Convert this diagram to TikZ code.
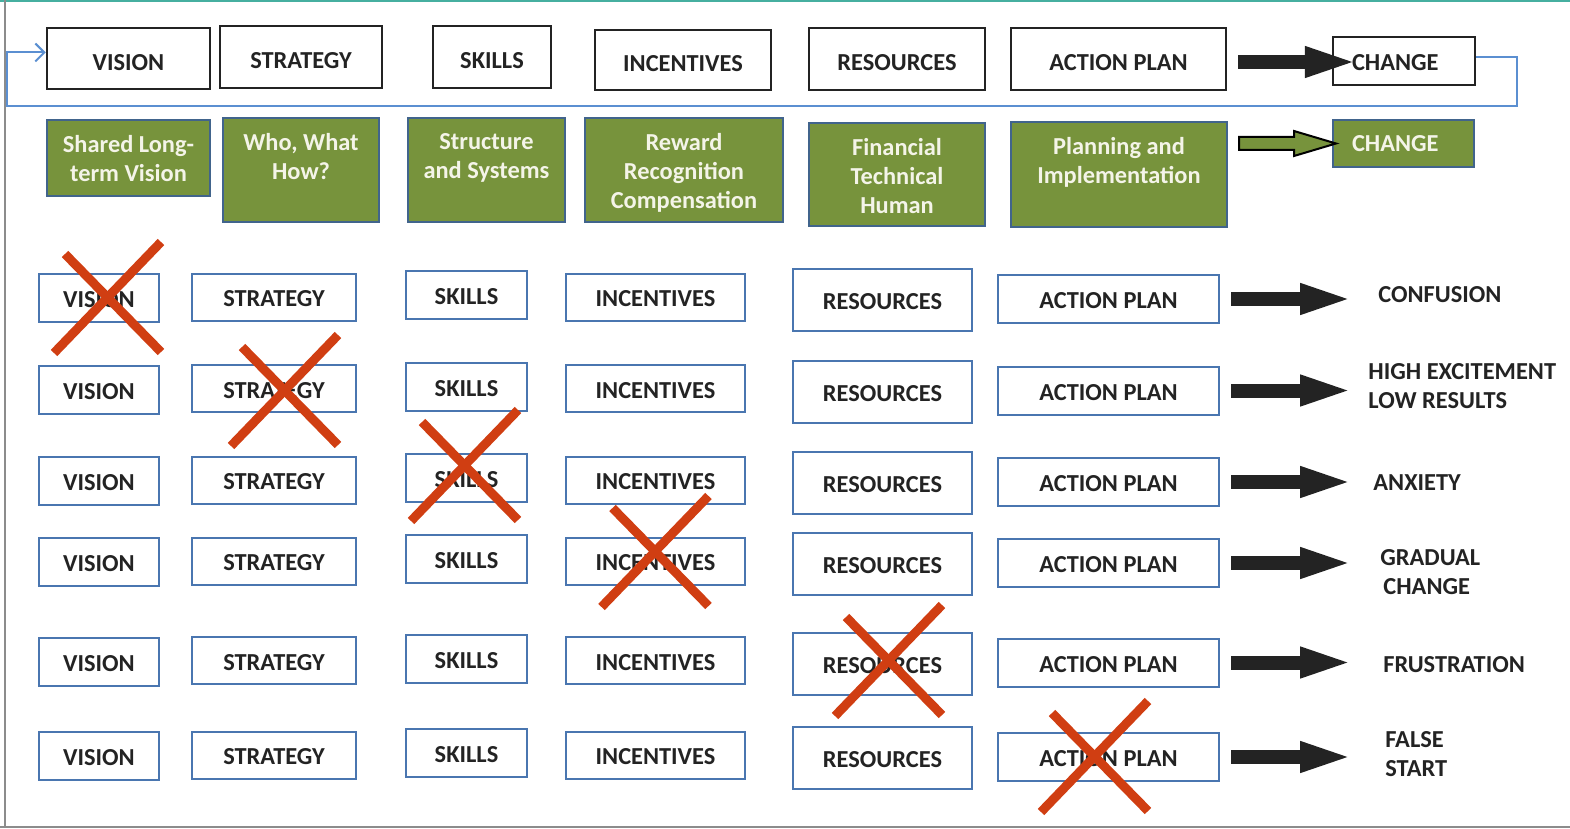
\documentclass[tikz,border=0pt]{standalone}
\usepackage{fontspec}
\setmainfont{Carlito}
\usepackage{tikz}
\usetikzlibrary{arrows.meta, positioning, calc}

\definecolor{inkgray}{RGB}{35, 35, 35}
\definecolor{loopblue}{RGB}{91, 143, 209}
\definecolor{boxblue}{RGB}{74, 118, 176}
\definecolor{leafgreen}{RGB}{119, 147, 60}
\definecolor{gedge}{RGB}{65, 100, 140}
\definecolor{gtext}{RGB}{244, 244, 232}
\definecolor{crossred}{RGB}{208, 62, 18}
\definecolor{framegray}{RGB}{140, 140, 140}
\definecolor{frameteal}{RGB}{70, 175, 160}

\newcommand{\boxfont}{\fontsize{12.2}{14.5}\selectfont\bfseries}

\begin{document}
\begin{tikzpicture}[x=0.5pt, y=-0.5pt,
  wh/.style 2 args={minimum width=#1*0.5pt, minimum height=#2*0.5pt},
  topbox/.style={draw=inkgray, line width=1.25pt, fill=white, font=\boxfont, text=inkgray, inner sep=0pt,
    text height=11.6pt, text depth=0pt},
  gridbox/.style={draw=boxblue, line width=1pt, fill=white, font=\boxfont, text=inkgray, inner sep=0pt,
    text height=9.8pt, text depth=0pt},
  greenbox/.style={draw=gedge, line width=1pt, fill=leafgreen, inner sep=0pt},
  greentext/.style={text=gtext, font=\boxfont, align=center, anchor=north, inner sep=3.5pt, yshift=-4.5pt},
  outcome/.style={font=\boxfont, text=inkgray, align=left, anchor=west, inner sep=0pt},
  bigarrow/.style={inkgray, line width=7pt, -{Triangle[length=27.5pt, width=13.5pt]}},
  garrow/.style={draw=black, fill=leafgreen, line width=1pt, line join=miter},
  loopline/.style={loopblue, line width=1pt, -{Straight Barb[length=4.5pt, width=9pt]}},
  crossline/.style={crossred, line width=4.5pt}]
  \useasboundingbox (0,0) rectangle (1570,829);

  % Frame
  \draw[frameteal, line width=1.2pt] (0,1) -- (1570,1);
  \draw[framegray, line width=0.8pt] (5,0) -- (5,827);
  \draw[framegray, line width=1.2pt] (0,827) -- (1570,827);

  % Top row
  \node[topbox, wh={163}{61}] (tvision) at (128.5,58.5) {VISION};
  \node[topbox, wh={162}{62}] (tstrategy) at (301,57) {STRATEGY};
  \node[topbox, wh={118}{62}] (tskills) at (492,57) {SKILLS};
  \node[topbox, wh={176}{60}] (tincent) at (683,60) {INCENTIVES};
  \node[topbox, wh={176}{62}] (tres) at (897,59) {RESOURCES};
  \node[topbox, wh={215}{62}] (tplan) at (1118.5,59) {ACTION PLAN};
  \node[topbox, wh={142}{48}, text width=52pt, align=left, inner xsep=9.5pt, text height=9.8pt] (tchange) at (1404,61) {CHANGE};
  \draw[bigarrow] ($(tplan.east |- tchange.west)+(11,1)$) -- ($(tchange.west)+(28,1)$);

  % Feedback loop
  \coordinate (loopcorner) at (7,106);
  \draw[loopline] ($(tchange.east)+(0,-4)$) -- ++(41,0) |- (loopcorner) |- ($(tvision.west)+(0,-6)$);

  % Green row
  \node[greenbox, wh={163}{76}] (gvision) at (128.5,158) {};
  \node[greenbox, wh={156}{104}] (gstrategy) at (301,170) {};
  \node[greenbox, wh={157}{104}] (gskills) at (486.5,170) {};
  \node[greenbox, wh={198}{104}] (gincent) at (684,170) {};
  \node[greenbox, wh={176}{103}] (gres) at (897,174.5) {};
  \node[greenbox, wh={216}{105}] (gplan) at (1119,174.5) {};
  \node[greenbox, wh={141}{47}, text=gtext, font=\boxfont, text width=51.5pt, align=left, inner xsep=9.5pt] (gchange) at (1403.5,143.5) {CHANGE};
  \node[greentext] (gvisiont) at (gvision.north) {Shared Long-\\term Vision};
  \node[greentext] (gstrategyt) at (gstrategy.north) {Who, What\\How?};
  \node[greentext] (gskillst) at (gskills.north) {Structure\\and Systems};
  \node[greentext] (gincentt) at (gincent.north) {Reward\\Recognition\\Compensation};
  \node[greentext] (grest) at (gres.north) {Financial\\Technical\\Human};
  \node[greentext] (gplant) at (gplan.north) {Planning and\\Implementation};
  \draw[garrow] ($(gplan.east |- gchange.west)+(11,-6.5)$) -- ++(55,0) -- ++(0,-6) -- ++(42,12.5)
    -- ++(-42,12.5) -- ++(0,-6) -- ++(-55,0) -- cycle;

  % Missing element grid
  \coordinate (tip) at (1355,0);
  \foreach \r/\y in {1/298, 2/389.5, 3/481, 4/562, 5/661.5, 6/756} {
    \node[gridbox, wh={120}{48}] (vision\r) at (99,\y) {VISION};
    \node[gridbox, wh={164}{47}] (strategy\r) at (274,\y-1) {STRATEGY};
    \node[gridbox, wh={121}{48}] (skills\r) at (466.5,\y-3) {SKILLS};
    \node[gridbox, wh={179}{47}] (incent\r) at (655.5,\y-1) {INCENTIVES};
    \node[gridbox, wh={179}{62}] (res\r) at (882.5,\y+2) {RESOURCES};
    \node[gridbox, wh={221}{48}] (plan\r) at (1108.5,\y+1) {ACTION PLAN};
    \draw[bigarrow] ($(plan\r.east)+(11,0)$) -- (plan\r.east -| tip);
  }

  % Outcomes
  \foreach \r/\ox/\oy/\txt in {1/1378/295/CONFUSION, 2/1368/386/{HIGH EXCITEMENT\\LOW RESULTS},
      3/1373/483/ANXIETY, 4/1380/572/{GRADUAL\\\hspace*{1.5pt}CHANGE}, 5/1383/665/FRUSTRATION,
      6/1385/754/{FALSE\\START}} {
    \node[outcome] (out\r) at (\ox,\oy) {\txt};
  }

  % Crosses
  \foreach \b/\dx/\dy in {vision1/9/-1, strategy2/11/1.5, skills3/-1.5/-13, incent4/0/-10, res5/6.5/-3.5, plan6/-13.5/-1} {
    \draw[crossline] ($(\b)+(\dx,\dy)+(-43,-43)$) -- ++(96,98);
    \draw[crossline] ($(\b)+(\dx,\dy)+(53,-55)$) -- ++(-107,111);
  }
\end{tikzpicture}
\end{document}
